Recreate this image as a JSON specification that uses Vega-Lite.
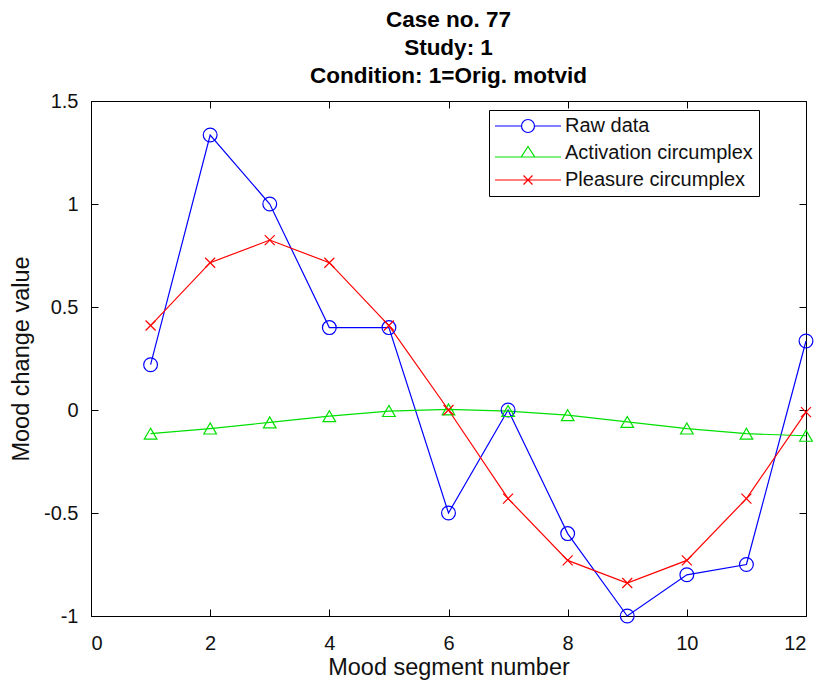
{
  "$schema": "https://vega.github.io/schema/vega-lite/v6.json",
  "autosize": {"type": "none"},
  "width": 715,
  "height": 515,
  "padding": {"left": 91, "top": 101, "right": 13, "bottom": 73},
  "background": "white",
  "config": {
    "font": "Liberation Sans",
    "view": {"stroke": "black", "strokeWidth": 1},
    "axis": {"grid": false, "domainColor": "black", "tickColor": "black", "labelColor": "#111", "titleColor": "#111", "labelFontSize": 20, "titleFontSize": 23.5, "titleFontWeight": "normal", "tickSize": -7, "labelFont": "Liberation Sans", "titleFont": "Liberation Sans"},
    "title": {"fontSize": 22.5, "fontWeight": "bold", "font": "Liberation Sans", "color": "black"}
  },
  "title": {
    "text": ["Case no. 77", "Study: 1", "Condition: 1=Orig. motvid"],
    "fontSize": 22.5,
    "fontWeight": "bold",
    "lineHeight": 28,
    "anchor": "middle",
    "offset": 4,
    "color": "black",
    "font": "Liberation Sans"
  },
  "data": {
    "values": [
      {"seg": 1, "series": "Raw data", "value": 0.22},
      {"seg": 2, "series": "Raw data", "value": 1.335},
      {"seg": 3, "series": "Raw data", "value": 1.0},
      {"seg": 4, "series": "Raw data", "value": 0.4},
      {"seg": 5, "series": "Raw data", "value": 0.4},
      {"seg": 6, "series": "Raw data", "value": -0.5},
      {"seg": 7, "series": "Raw data", "value": 0.0},
      {"seg": 8, "series": "Raw data", "value": -0.6},
      {"seg": 9, "series": "Raw data", "value": -1.0},
      {"seg": 10, "series": "Raw data", "value": -0.8},
      {"seg": 11, "series": "Raw data", "value": -0.75},
      {"seg": 12, "series": "Raw data", "value": 0.335},
      {"seg": 1, "series": "Activation circumplex", "value": -0.115},
      {"seg": 2, "series": "Activation circumplex", "value": -0.09},
      {"seg": 3, "series": "Activation circumplex", "value": -0.06},
      {"seg": 4, "series": "Activation circumplex", "value": -0.03},
      {"seg": 5, "series": "Activation circumplex", "value": -0.005},
      {"seg": 6, "series": "Activation circumplex", "value": 0.003},
      {"seg": 7, "series": "Activation circumplex", "value": -0.005},
      {"seg": 8, "series": "Activation circumplex", "value": -0.025},
      {"seg": 9, "series": "Activation circumplex", "value": -0.058},
      {"seg": 10, "series": "Activation circumplex", "value": -0.09},
      {"seg": 11, "series": "Activation circumplex", "value": -0.115},
      {"seg": 12, "series": "Activation circumplex", "value": -0.125},
      {"seg": 1, "series": "Pleasure circumplex", "value": 0.41},
      {"seg": 2, "series": "Pleasure circumplex", "value": 0.715},
      {"seg": 3, "series": "Pleasure circumplex", "value": 0.825},
      {"seg": 4, "series": "Pleasure circumplex", "value": 0.715},
      {"seg": 5, "series": "Pleasure circumplex", "value": 0.41},
      {"seg": 6, "series": "Pleasure circumplex", "value": 0.0},
      {"seg": 7, "series": "Pleasure circumplex", "value": -0.43},
      {"seg": 8, "series": "Pleasure circumplex", "value": -0.73},
      {"seg": 9, "series": "Pleasure circumplex", "value": -0.84},
      {"seg": 10, "series": "Pleasure circumplex", "value": -0.73},
      {"seg": 11, "series": "Pleasure circumplex", "value": -0.43},
      {"seg": 12, "series": "Pleasure circumplex", "value": -0.01}
    ]
  },
  "resolve": {"axis": {"x": "independent", "y": "independent"}},
  "layer": [
    {
      "mark": {"type": "line", "strokeWidth": 1.2},
      "encoding": {
        "x": {"field": "seg", "type": "quantitative", "scale": {"domain": [0, 12], "nice": false, "zero": false},
          "axis": {"orient": "bottom", "values": [0, 2, 4, 6, 8, 10, 12], "title": "Mood segment number", "labelPadding": 24, "titlePadding": 2}},
        "y": {"field": "value", "type": "quantitative", "scale": {"domain": [-1, 1.5], "nice": false, "zero": false},
          "axis": {"orient": "left", "values": [-1, -0.5, 0, 0.5, 1, 1.5], "title": "Mood change value", "labelExpr": "toString(datum.value)", "labelPadding": 20, "titlePadding": 10}},
        "color": {"field": "series", "type": "nominal",
          "scale": {"domain": ["Raw data", "Activation circumplex", "Pleasure circumplex"], "range": ["#0000ff", "#00e000", "#ff0000"]}},
        "detail": {"field": "series"}
      }
    },
    {
      "transform": [{"filter": {"field": "series", "equal": "__legend_only__"}}],
      "mark": {"type": "point", "filled": false, "strokeWidth": 1.2, "opacity": 1},
      "encoding": {
        "x": {"field": "seg", "type": "quantitative", "axis": null},
        "y": {"field": "value", "type": "quantitative", "axis": null},
        "color": {"field": "series", "type": "nominal",
          "legend": {
            "orient": "none", "legendX": 398, "legendY": 9, "title": null,
            "strokeColor": "black", "fillColor": "white", "padding": 6,
            "symbolSize": 100, "symbolOffset": 23, "labelOffset": 27, "labelLimit": 400,
            "labelFontSize": 20, "labelColor": "#111", "labelFont": "Liberation Sans",
            "rowPadding": 7, "symbolStrokeWidth": 1.2
          }},
        "shape": {"field": "series", "type": "nominal",
          "scale": {"domain": ["Raw data", "Activation circumplex", "Pleasure circumplex"],
            "range": [
              "M-6.6,0L-1.3,0M1.3,0L6.6,0M-1.3,0A1.3,1.3 0 1,0 1.3,0A1.3,1.3 0 1,0 -1.3,0",
              "M-6.6,0.8L6.6,0.8M0,-1.3L1.35,0.8L-1.35,0.8Z",
              "M-6.6,0L6.6,0M-0.9,-0.9L0.9,0.9M-0.9,0.9L0.9,-0.9"
            ]},
          "legend": {
            "orient": "none", "legendX": 398, "legendY": 9, "title": null,
            "strokeColor": "black", "fillColor": "white", "padding": 6,
            "symbolSize": 100, "symbolOffset": 23, "labelOffset": 27, "labelLimit": 400,
            "labelFontSize": 20, "labelColor": "#111", "labelFont": "Liberation Sans",
            "rowPadding": 7, "symbolStrokeWidth": 1.2
          }}
      }
    },
    {
      "transform": [{"filter": {"field": "series", "equal": "Raw data"}}],
      "mark": {"type": "point", "shape": "circle", "filled": false, "size": 190, "strokeWidth": 1.2, "opacity": 1, "color": "#0000ff"},
      "encoding": {
        "x": {"field": "seg", "type": "quantitative",
          "axis": {"orient": "top", "values": [0, 2, 4, 6, 8, 10, 12], "labels": false, "title": null, "domain": false}},
        "y": {"field": "value", "type": "quantitative",
          "axis": {"orient": "right", "values": [-1, -0.5, 0, 0.5, 1, 1.5], "labels": false, "title": null, "domain": false}}
      }
    },
    {
      "transform": [{"filter": {"field": "series", "equal": "Activation circumplex"}}],
      "mark": {"type": "point", "shape": "triangle-up", "filled": false, "size": 160, "strokeWidth": 1.2, "opacity": 1, "color": "#00e000"},
      "encoding": {
        "x": {"field": "seg", "type": "quantitative", "axis": null},
        "y": {"field": "value", "type": "quantitative", "axis": null}
      }
    },
    {
      "transform": [{"filter": {"field": "series", "equal": "Pleasure circumplex"}}],
      "mark": {"type": "point", "shape": "M-1,-1L1,1M-1,1L1,-1", "filled": false, "size": 100, "strokeWidth": 1.2, "opacity": 1, "color": "#ff0000"},
      "encoding": {
        "x": {"field": "seg", "type": "quantitative", "axis": null},
        "y": {"field": "value", "type": "quantitative", "axis": null}
      }
    }
  ]
}
